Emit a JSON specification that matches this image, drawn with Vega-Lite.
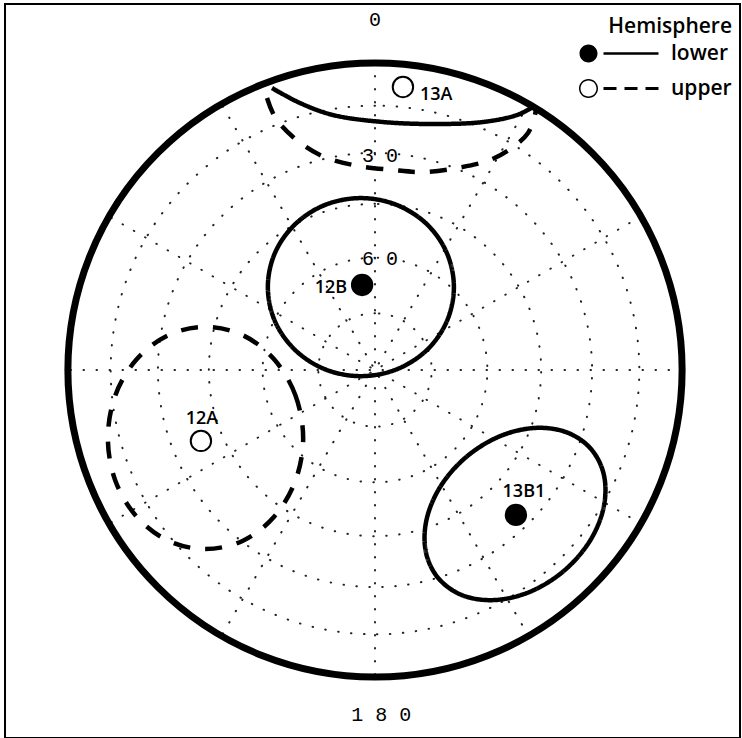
{
  "$schema": "https://vega.github.io/schema/vega-lite/v6.json",
  "width": 735,
  "height": 734,
  "autosize": {"type": "none"},
  "padding": {"left": 5, "top": 4, "right": 2, "bottom": 0},
  "background": "white",
  "config": {"view": {"stroke": "black", "strokeWidth": 2}, "font": "Open Sans"},
  "datasets": {
    "centre": [{"x": 0, "y": 0, "r": 1}],
    "plungeCircles": [
      {"plunge": 15, "x": 0, "y": 0, "r": 0.861},
      {"plunge": 30, "x": 0, "y": 0, "r": 0.7071},
      {"plunge": 45, "x": 0, "y": 0, "r": 0.5412},
      {"plunge": 60, "x": 0, "y": 0, "r": 0.366},
      {"plunge": 75, "x": 0, "y": 0, "r": 0.1846}
    ],
    "trendLines": [
      {"trend": 0, "x": 0, "y": 1, "x2": 0, "y2": -1},
      {"trend": 30, "x": 0.5, "y": 0.866, "x2": -0.5, "y2": -0.866},
      {"trend": 60, "x": 0.866, "y": 0.5, "x2": -0.866, "y2": -0.5},
      {"trend": 90, "x": 1, "y": 0, "x2": -1, "y2": 0},
      {"trend": 120, "x": 0.866, "y": -0.5, "x2": -0.866, "y2": 0.5},
      {"trend": 150, "x": 0.5, "y": -0.866, "x2": -0.5, "y2": 0.866}
    ],
    "plungeLabels": [
      {"label": "0", "x": 0, "y": 1.14},
      {"label": "3 0", "x": 0.0163, "y": 0.697},
      {"label": "6 0", "x": 0.0163, "y": 0.3616},
      {"label": "1 8 0", "x": 0.02, "y": -1.1238}
    ],
    "cones": [
      {"cone": "12B", "hemisphere": "lower", "i": 0, "x": 0.257, "y": 0.27},
      {"cone": "12B", "hemisphere": "lower", "i": 1, "x": 0.234, "y": 0.381},
      {"cone": "12B", "hemisphere": "lower", "i": 2, "x": 0.169, "y": 0.475},
      {"cone": "12B", "hemisphere": "lower", "i": 3, "x": 0.07, "y": 0.538},
      {"cone": "12B", "hemisphere": "lower", "i": 4, "x": -0.046, "y": 0.56},
      {"cone": "12B", "hemisphere": "lower", "i": 5, "x": -0.162, "y": 0.538},
      {"cone": "12B", "hemisphere": "lower", "i": 6, "x": -0.26, "y": 0.475},
      {"cone": "12B", "hemisphere": "lower", "i": 7, "x": -0.326, "y": 0.381},
      {"cone": "12B", "hemisphere": "lower", "i": 8, "x": -0.349, "y": 0.27},
      {"cone": "12B", "hemisphere": "lower", "i": 9, "x": -0.326, "y": 0.159},
      {"cone": "12B", "hemisphere": "lower", "i": 10, "x": -0.26, "y": 0.065},
      {"cone": "12B", "hemisphere": "lower", "i": 11, "x": -0.162, "y": 0.002},
      {"cone": "12B", "hemisphere": "lower", "i": 12, "x": -0.046, "y": -0.02},
      {"cone": "12B", "hemisphere": "lower", "i": 13, "x": 0.07, "y": 0.002},
      {"cone": "12B", "hemisphere": "lower", "i": 14, "x": 0.169, "y": 0.065},
      {"cone": "12B", "hemisphere": "lower", "i": 15, "x": 0.234, "y": 0.159},
      {"cone": "12A", "hemisphere": "upper", "i": 0, "x": -0.234, "y": -0.222},
      {"cone": "12A", "hemisphere": "upper", "i": 1, "x": -0.259, "y": -0.083},
      {"cone": "12A", "hemisphere": "upper", "i": 2, "x": -0.328, "y": 0.034},
      {"cone": "12A", "hemisphere": "upper", "i": 3, "x": -0.43, "y": 0.113},
      {"cone": "12A", "hemisphere": "upper", "i": 4, "x": -0.552, "y": 0.14},
      {"cone": "12A", "hemisphere": "upper", "i": 5, "x": -0.674, "y": 0.113},
      {"cone": "12A", "hemisphere": "upper", "i": 6, "x": -0.777, "y": 0.034},
      {"cone": "12A", "hemisphere": "upper", "i": 7, "x": -0.846, "y": -0.083},
      {"cone": "12A", "hemisphere": "upper", "i": 8, "x": -0.87, "y": -0.222},
      {"cone": "12A", "hemisphere": "upper", "i": 9, "x": -0.846, "y": -0.36},
      {"cone": "12A", "hemisphere": "upper", "i": 10, "x": -0.777, "y": -0.477},
      {"cone": "12A", "hemisphere": "upper", "i": 11, "x": -0.674, "y": -0.556},
      {"cone": "12A", "hemisphere": "upper", "i": 12, "x": -0.552, "y": -0.583},
      {"cone": "12A", "hemisphere": "upper", "i": 13, "x": -0.43, "y": -0.556},
      {"cone": "12A", "hemisphere": "upper", "i": 14, "x": -0.328, "y": -0.477},
      {"cone": "12A", "hemisphere": "upper", "i": 15, "x": -0.259, "y": -0.36},
      {"cone": "13B1", "hemisphere": "lower", "i": 0, "x": 0.7055, "y": -0.2596},
      {"cone": "13B1", "hemisphere": "lower", "i": 1, "x": 0.7467, "y": -0.3472},
      {"cone": "13B1", "hemisphere": "lower", "i": 2, "x": 0.7435, "y": -0.4533},
      {"cone": "13B1", "hemisphere": "lower", "i": 3, "x": 0.6968, "y": -0.5617},
      {"cone": "13B1", "hemisphere": "lower", "i": 4, "x": 0.6131, "y": -0.6561},
      {"cone": "13B1", "hemisphere": "lower", "i": 5, "x": 0.5056, "y": -0.7221},
      {"cone": "13B1", "hemisphere": "lower", "i": 6, "x": 0.3907, "y": -0.7493},
      {"cone": "13B1", "hemisphere": "lower", "i": 7, "x": 0.2857, "y": -0.7342},
      {"cone": "13B1", "hemisphere": "lower", "i": 8, "x": 0.2065, "y": -0.6784},
      {"cone": "13B1", "hemisphere": "lower", "i": 9, "x": 0.1653, "y": -0.5908},
      {"cone": "13B1", "hemisphere": "lower", "i": 10, "x": 0.1685, "y": -0.4847},
      {"cone": "13B1", "hemisphere": "lower", "i": 11, "x": 0.2152, "y": -0.3763},
      {"cone": "13B1", "hemisphere": "lower", "i": 12, "x": 0.2989, "y": -0.2819},
      {"cone": "13B1", "hemisphere": "lower", "i": 13, "x": 0.4064, "y": -0.2159},
      {"cone": "13B1", "hemisphere": "lower", "i": 14, "x": 0.5213, "y": -0.1887},
      {"cone": "13B1", "hemisphere": "lower", "i": 15, "x": 0.6263, "y": -0.2038}
    ],
    "cone13A": [
      {"part": "13A lower", "hemisphere": "lower", "i": 0, "x": -0.3355, "y": 0.9186},
      {"part": "13A lower", "hemisphere": "lower", "i": 1, "x": -0.2443, "y": 0.8697},
      {"part": "13A lower", "hemisphere": "lower", "i": 2, "x": -0.1368, "y": 0.8306},
      {"part": "13A lower", "hemisphere": "lower", "i": 3, "x": 0.0261, "y": 0.8078},
      {"part": "13A lower", "hemisphere": "lower", "i": 4, "x": 0.1889, "y": 0.8013},
      {"part": "13A lower", "hemisphere": "lower", "i": 5, "x": 0.3518, "y": 0.8078},
      {"part": "13A lower", "hemisphere": "lower", "i": 6, "x": 0.4625, "y": 0.8306},
      {"part": "13A lower", "hemisphere": "lower", "i": 7, "x": 0.5147, "y": 0.8567},
      {"part": "13A upper", "hemisphere": "upper", "i": 0, "x": -0.3518, "y": 0.886},
      {"part": "13A upper", "hemisphere": "upper", "i": 1, "x": -0.3257, "y": 0.8241},
      {"part": "13A upper", "hemisphere": "upper", "i": 2, "x": -0.2671, "y": 0.759},
      {"part": "13A upper", "hemisphere": "upper", "i": 3, "x": -0.1792, "y": 0.7003},
      {"part": "13A upper", "hemisphere": "upper", "i": 4, "x": -0.0717, "y": 0.6678},
      {"part": "13A upper", "hemisphere": "upper", "i": 5, "x": 0.0586, "y": 0.6515},
      {"part": "13A upper", "hemisphere": "upper", "i": 6, "x": 0.1564, "y": 0.645},
      {"part": "13A upper", "hemisphere": "upper", "i": 7, "x": 0.2671, "y": 0.658},
      {"part": "13A upper", "hemisphere": "upper", "i": 8, "x": 0.3746, "y": 0.684},
      {"part": "13A upper", "hemisphere": "upper", "i": 9, "x": 0.4495, "y": 0.7264},
      {"part": "13A upper", "hemisphere": "upper", "i": 10, "x": 0.4984, "y": 0.772},
      {"part": "13A upper", "hemisphere": "upper", "i": 11, "x": 0.5212, "y": 0.8306},
      {"part": "13A upper", "hemisphere": "upper", "i": 12, "x": 0.5244, "y": 0.86}
    ],
    "points": [
      {"name": "13A", "hemisphere": "upper", "x": 0.091, "y": 0.922},
      {"name": "12B", "hemisphere": "lower", "x": -0.042, "y": 0.277},
      {"name": "12A", "hemisphere": "upper", "x": -0.567, "y": -0.231},
      {"name": "13B1", "hemisphere": "lower", "x": 0.459, "y": -0.472}
    ],
    "hemispheres": [
      {"hemisphere": "lower", "x": 3, "y": 3},
      {"hemisphere": "upper", "x": 3, "y": 3}
    ]
  },
  "encoding": {
    "x": {"field": "x", "type": "quantitative", "scale": {"domain": [-1.2052, 1.1889], "nice": false, "zero": false}, "axis": null},
    "y": {"field": "y", "type": "quantitative", "scale": {"domain": [-1.1987, 1.1922], "nice": false, "zero": false}, "axis": null}
  },
  "layer": [
    {
      "data": {"name": "plungeCircles"},
      "mark": {"type": "arc", "filled": false, "theta": 6.2832, "stroke": "#222222", "strokeWidth": 2, "strokeDash": [0.5, 12.5], "strokeCap": "round"},
      "encoding": {
        "radius": {"field": "r", "type": "quantitative", "stack": null, "scale": {"type": "linear", "domain": [0, 1], "range": [0, 307], "zero": true}}
      }
    },
    {
      "data": {"name": "trendLines"},
      "mark": {"type": "rule", "stroke": "#222222", "strokeWidth": 2, "strokeDash": [0.5, 12.5], "strokeCap": "round"},
      "encoding": {
        "x2": {"field": "x2"},
        "y2": {"field": "y2"}
      }
    },
    {
      "data": {"name": "centre"},
      "mark": {"type": "arc", "filled": false, "theta": 6.2832, "stroke": "black", "strokeWidth": 7},
      "encoding": {
        "radius": {"field": "r", "type": "quantitative", "stack": null, "scale": {"type": "linear", "domain": [0, 1], "range": [0, 307], "zero": true}}
      }
    },
    {
      "data": {"name": "cones"},
      "mark": {"type": "line", "interpolate": "cardinal-closed", "stroke": "black", "strokeWidth": 4.5},
      "encoding": {
        "detail": {"field": "cone"},
        "order": {"field": "i", "type": "quantitative"},
        "strokeDash": {"field": "hemisphere", "type": "nominal", "scale": {"range": [[1, 0], [17, 15]]}, "legend": null}
      }
    },
    {
      "data": {"name": "cone13A"},
      "mark": {"type": "line", "interpolate": "catmull-rom", "stroke": "black", "strokeWidth": 4.5},
      "encoding": {
        "detail": {"field": "part"},
        "order": {"field": "i", "type": "quantitative"},
        "strokeDash": {"field": "hemisphere", "type": "nominal", "scale": {"range": [[1, 0], [17, 15]]}, "legend": null}
      }
    },
    {
      "data": {"name": "points"},
      "mark": {"type": "point", "shape": "circle", "filled": true, "stroke": "black", "strokeWidth": 2, "opacity": 1, "size": 415},
      "encoding": {
        "fill": {"field": "hemisphere", "type": "nominal", "scale": {"range": ["black", "white"]}, "legend": null}
      }
    },
    {
      "data": {"name": "points"},
      "transform": [{"filter": "datum.name === '13A'"}],
      "mark": {"type": "text", "font": "Open Sans", "fontSize": 18, "fontWeight": 600, "align": "left", "baseline": "middle", "dx": 17, "dy": 8, "color": "black"},
      "encoding": {"text": {"field": "name"}}
    },
    {
      "data": {"name": "points"},
      "transform": [{"filter": "datum.name === '12B'"}],
      "mark": {"type": "text", "font": "Open Sans", "fontSize": 18, "fontWeight": 600, "align": "right", "baseline": "middle", "dx": -15, "dy": 3, "color": "black"},
      "encoding": {"text": {"field": "name"}}
    },
    {
      "data": {"name": "points"},
      "transform": [{"filter": "datum.name === '12A'"}],
      "mark": {"type": "text", "font": "Open Sans", "fontSize": 18, "fontWeight": 600, "align": "center", "baseline": "middle", "dx": 1, "dy": -22, "color": "black"},
      "encoding": {"text": {"field": "name"}}
    },
    {
      "data": {"name": "points"},
      "transform": [{"filter": "datum.name === '13B1'"}],
      "mark": {"type": "text", "font": "Open Sans", "fontSize": 18, "fontWeight": 600, "align": "center", "baseline": "middle", "dx": 8, "dy": -23, "color": "black"},
      "encoding": {"text": {"field": "name"}}
    },
    {
      "data": {"name": "plungeLabels"},
      "mark": {"type": "text", "font": "Liberation Mono", "fontSize": 20, "align": "center", "baseline": "middle", "color": "black"},
      "encoding": {"text": {"field": "label"}}
    },
    {
      "data": {"name": "hemispheres"},
      "mark": {"type": "point", "filled": true, "color": "black", "opacity": 1, "clip": true, "size": 400},
      "encoding": {
        "shape": {
          "field": "hemisphere",
          "type": "nominal",
          "scale": {
            "domain": ["lower", "upper"],
            "range": [
              "M-0.9,0A0.9,0.9,0,1,1,0.9,0A0.9,0.9,0,1,1,-0.9,0ZM1.5,-0.13L7,-0.13L7,0.13L1.5,0.13Z",
              "M-0.95,0A0.95,0.95,0,1,1,0.95,0A0.95,0.95,0,1,1,-0.95,0ZM0.8,0A0.8,0.8,0,1,0,-0.8,0A0.8,0.8,0,1,0,0.8,0ZM1.5,-0.15L2.8,-0.15L2.8,0.15L1.5,0.15ZM3.6,-0.15L4.9,-0.15L4.9,0.15L3.6,0.15ZM5.7,-0.15L7,-0.15L7,0.15L5.7,0.15Z"
            ]
          },
          "legend": {
            "title": "Hemisphere",
            "orient": "none",
            "legendX": 573,
            "legendY": 12,
            "padding": 0,
            "titleFont": "Open Sans",
            "titleFontSize": 21,
            "titleFontWeight": 600,
            "titleColor": "black",
            "titleAnchor": "end",
            "titlePadding": 6,
            "labelFont": "Open Sans",
            "labelFontSize": 21,
            "labelFontWeight": 600,
            "labelColor": "black",
            "labelOffset": 72,
            "rowPadding": 13,
            "symbolSize": 400,
            "symbolStrokeWidth": 0,
            "symbolFillColor": "black",
            "symbolOpacity": 1
          }
        }
      }
    }
  ]
}
